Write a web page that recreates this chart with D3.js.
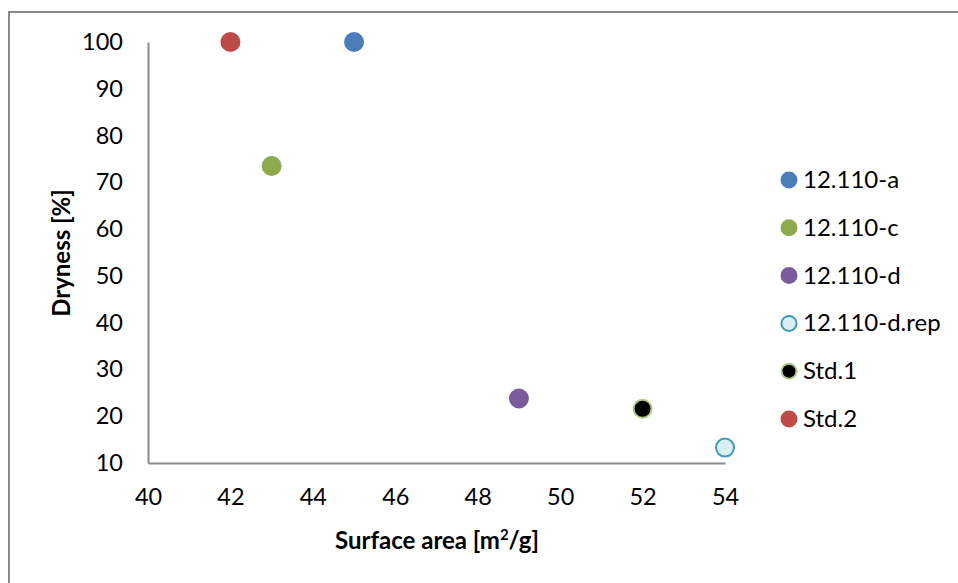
<!DOCTYPE html>
<html><head><meta charset="utf-8">
<script src="https://cdn.jsdelivr.net/npm/d3@7"></script>
<style>body{margin:0;background:#fff}svg{display:block}text{font-family:Lato,"Open Sans",sans-serif;fill:#000}</style>
</head><body><svg id="c" width="958" height="583"></svg>
<script>
const seriesNames = ["12.110-a","12.110-c","12.110-d","12.110-d.rep","Std.1","Std.2"];
const xValues = [45, 43, 49, 54, 52, 42];
const yValues = [100, 73.5, 23.8, 13.3, 21.6, 100];
const fills = ["#4A7EBB","#8EAA4E","#7A5C9E","#DBEEF4","#000000","#BE4B48"];
const strokes = ["#4A7EBB","#8EAA4E","#7A5C9E","#3E9AB6","#B4CC8A","#BE4B48"];
const xTicks = [40,42,44,46,48,50,52,54];
const yTicks = [10,20,30,40,50,60,70,80,90,100];

const svg = d3.select("#c");
svg.append("rect").attr("x",9).attr("y",12).attr("width",960).attr("height",590)
  .attr("fill","none").attr("stroke","#888").attr("stroke-width",2);

const x = d3.scaleLinear().domain([40,54]).range([148,725]);
const y = d3.scaleLinear().domain([10,100]).range([463,42]);

const xa = svg.append("g").attr("transform","translate(0,463)")
  .call(d3.axisBottom(x).tickValues(xTicks).tickSize(0).tickPadding(25));
const ya = svg.append("g").attr("transform","translate(148,0)")
  .call(d3.axisLeft(y).tickValues(yTicks).tickSize(0).tickPadding(25));
[xa,ya].forEach(a=>{a.select(".domain").attr("stroke","#8c8c8c").attr("stroke-width",2);
  a.selectAll("text").attr("font-size",23.5).attr("font-family","Lato,'Open Sans',sans-serif");});

svg.append("text").attr("x",437).attr("y",549).attr("text-anchor","middle")
  .attr("font-size",24).attr("font-weight","bold")
  .html('Surface area [m<tspan dy="-9" font-size="15">2</tspan><tspan dy="9">/g]</tspan>');
svg.append("text").attr("transform","translate(70,253) rotate(-90)").attr("text-anchor","middle")
  .attr("font-size",24).attr("font-weight","bold").text("Dryness [%]");

const data = seriesNames.map((n,i)=>({n,x:xValues[i],y:yValues[i],f:fills[i],s:strokes[i]}));
svg.append("g").selectAll("circle").data(data).join("circle")
  .attr("cx",d=>x(d.x)).attr("cy",d=>y(d.y)).attr("r",9)
  .attr("fill",d=>d.f).attr("stroke",d=>d.s).attr("stroke-width",2);

const lg = svg.append("g").selectAll("g").data(data).join("g")
  .attr("transform",(d,i)=>`translate(789,${180+i*47.8})`);
lg.append("circle").attr("r",7.5).attr("fill",d=>d.f).attr("stroke",d=>d.s).attr("stroke-width",2);
lg.append("text").attr("x",14).attr("y",8).attr("font-size",24).text(d=>d.n);
</script></body></html>
